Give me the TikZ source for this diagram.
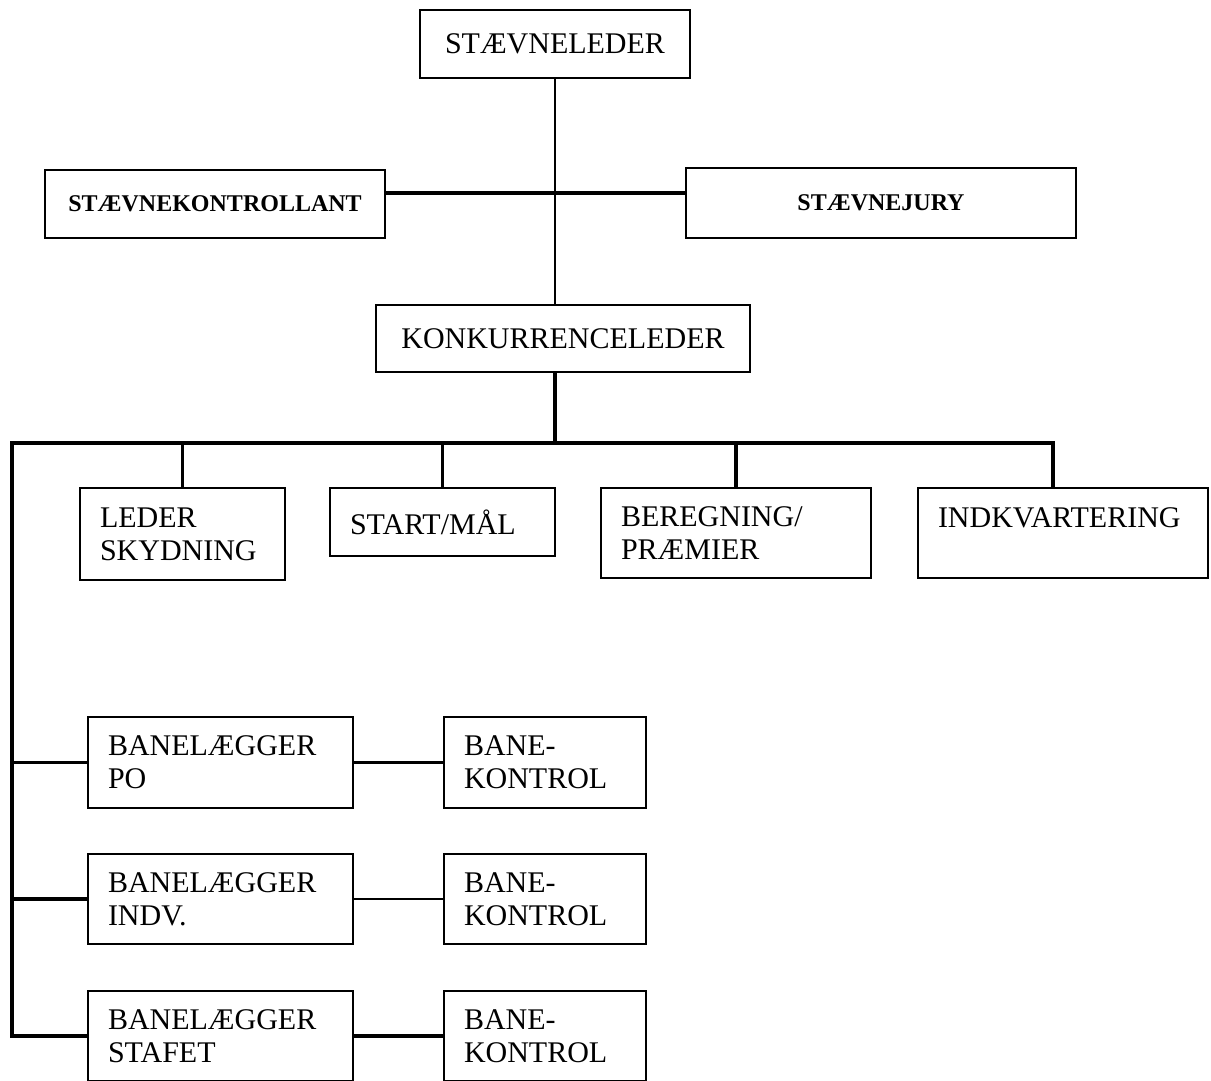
\documentclass[tikz,border=0pt]{standalone}
\usepackage{fontspec}
\setmainfont{Liberation Serif}
\usepackage{tikz}

\begin{document}
\begin{tikzpicture}[x=0.5pt,y=-0.5pt,
  orgbox/.style={draw,line width=0.9pt,inner xsep=10pt,inner ysep=0pt,align=left,font=\fontsize{15}{16.5}\selectfont},
  topbox/.style={orgbox,align=center},
  boldbox/.style={orgbox,align=center,font=\fontsize{12}{14}\selectfont\bfseries},
  bus/.style={line width=1.8pt},
  link/.style={line width=1.1pt}]
  \useasboundingbox (0,0) rectangle (1211,1081);
  \node[topbox,text width=115pt,minimum height=34pt] (lead) at (555,44) {STÆVNELEDER};
  \node[boldbox,text width=150pt,minimum height=34pt] (ctrl) at (215,204) {STÆVNEKONTROLLANT};
  \node[boldbox,text width=175pt,minimum height=35pt] (jury) at (881,203) {STÆVNEJURY};
  \node[topbox,text width=167pt,minimum height=33.5pt] (comp) at (563,338.5) {KONKURRENCELEDER};
  \node[orgbox,text width=82.5pt,minimum height=46pt] (shoot) at (182.5,534) {LEDER\\SKYDNING};
  \node[orgbox,text width=92.5pt,minimum height=34pt] (start) at (442.5,522) {START/MÅL};
  \node[orgbox,text width=115pt,minimum height=45pt] (calc) at (736,533) {BEREGNING/\\PRÆMIER};
  \node[orgbox,text width=125pt,minimum height=45pt] (lodge) at (1063,533) {INDKVARTERING\\[-6pt]\strut};
  \node[orgbox,text width=112.5pt,minimum height=45.5pt] (po) at (220.5,762.5) {BANELÆGGER\\PO};
  \node[orgbox,text width=81pt,minimum height=45.5pt] (pok) at (545,762.5) {BANE-\\KONTROL};
  \node[orgbox,text width=112.5pt,minimum height=45pt] (indv) at (220.5,899) {BANELÆGGER\\INDV.};
  \node[orgbox,text width=81pt,minimum height=45pt] (indvk) at (545,899) {BANE-\\KONTROL};
  \node[orgbox,text width=112.5pt,minimum height=45pt] (staf) at (220.5,1036) {BANELÆGGER\\STAFET};
  \node[orgbox,text width=81pt,minimum height=45pt] (stafk) at (545,1036) {BANE-\\KONTROL};
  \coordinate (busL) at (12,443);
  \draw[link] (lead.south) -- (lead.south |- comp.north);
  \draw[bus] ([yshift=5.5pt]ctrl.east) -- ([yshift=5.5pt]ctrl.east -| jury.west);
  \draw[bus] (lead.south |- comp.south) -- (lead.south |- busL);
  \draw[bus] (staf.west) -| (busL) -| ([xshift=-5pt]lodge.north);
  \draw[bus] (shoot.north) -- (shoot.north |- busL);
  \draw[bus] (start.north) -- (start.north |- busL);
  \draw[bus] (calc.north) -- (calc.north |- busL);
  \draw[bus] (po.west) -- (po.west -| busL);
  \draw[bus] (indv.west) -- (indv.west -| busL);
  \draw[bus] (po.east) -- (pok.west);
  \draw[link] (indv.east) -- (indvk.west);
  \draw[bus] (staf.east) -- (stafk.west);
\end{tikzpicture}
\end{document}
